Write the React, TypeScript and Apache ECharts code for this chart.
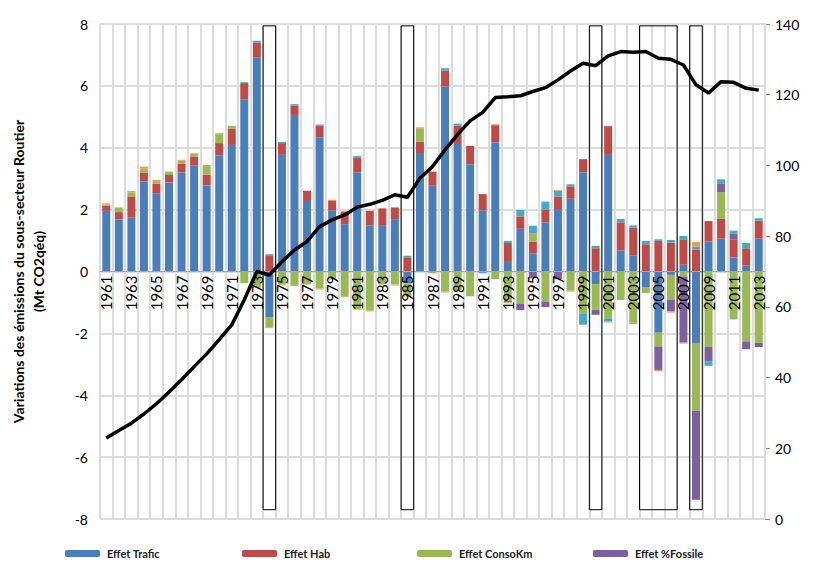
import React, { useEffect, useRef } from "react";
import * as echarts from "echarts";

const years: string[] = [];
for (let y = 1961; y <= 2013; y++) years.push(String(y));

const trafic = [1.96, 1.68, 1.74, 2.92, 2.53, 2.88, 3.2, 3.42, 2.78, 3.75, 4.09, 5.57, 6.91,
  -1.49, 3.77, 5.06, 2.28, 4.34, 1.97, 1.53, 3.21, 1.48, 1.5, 1.67, -0.38, 3.8, 2.77,
  5.98, 4.15, 3.47, 1.97, 4.17, 0.34, 1.38, 0.59, 1.59, 2.02, 2.35, 3.21, -0.41, 3.77,
  0.68, 0.51, -0.5, -1.98, -0.11, 0.22, -2.31, 0.97, 1.06, 0.45, 0.19, 1.06];
const hab = [0.17, 0.24, 0.67, 0.28, 0.31, 0.24, 0.28, 0.3, 0.35, 0.4, 0.53, 0.52, 0.49,
  0.5, 0.38, 0.31, 0.33, 0.37, 0.31, 0.41, 0.48, 0.48, 0.54, 0.4, 0.46, 0.4, 0.46,
  0.51, 0.56, 0.59, 0.53, 0.56, 0.58, 0.4, 0.38, 0.4, 0.4, 0.4, 0.42, 0.75, 0.91,
  0.91, 0.91, 0.88, 0.99, 0.94, 0.82, 0.7, 0.66, 0.64, 0.59, 0.56, 0.58];
const consoKm = [0.04, 0.15, 0.14, 0.12, 0.08, 0.11, 0.1, 0.1, 0.31, 0.29, 0.09, -0.38, -0.5,
  -0.31, -0.42, -0.44, -0.42, -0.55, -0.26, -0.79, -1.23, -1.26, -0.42, -0.42, -0.4, 0.41, -0.06,
  -0.65, -0.6, -0.8, 0, -0.25, -0.95, -1.05, 0.27, -0.97, 0, -0.62, -1.35, -0.83, -1.51,
  -0.92, -1.66, -0.2, -0.44, -0.8, -0.16, -2.19, -2.44, 0.86, -1.55, -2.26, -2.31];
const fossile = [0, 0, 0, 0, 0, 0, 0, 0, 0, 0, 0, 0, 0,
  0, 0, 0, 0, 0, 0, 0, 0, 0, 0, 0, 0, 0, 0,
  0, 0, 0, 0, 0, -0.05, -0.2, -0.22, -0.18, -0.25, 0, 0, -0.16, 0.03,
  0, 0, 0, -0.76, -0.38, -2.14, -2.88, -0.47, 0.29, 0.18, -0.25, -0.13];
const autre1 = [0, 0, 0, 0, 0, 0, 0, 0, 0, 0, 0, 0.03, 0.06,
  0.06, 0.04, 0.04, 0, 0.04, 0, 0, 0.04, 0, 0, 0, 0.05, 0, 0,
  0.08, 0.07, 0, -0.06, 0, 0.07, 0.21, 0.24, 0.27, 0.19, 0.07, -0.37, 0.08, -0.11,
  0.11, 0.07, 0.11, 0.05, 0.08, 0.11, 0.11, -0.14, 0.13, 0.1, 0.17, 0.08];
const autre2 = [0.03, 0, 0.05, 0.07, 0.04, 0, 0.03, 0, 0, 0.03, 0, 0, -0.03,
  -0.03, -0.03, -0.03, 0, -0.03, 0.04, -0.03, 0, -0.03, 0, -0.03, -0.03, 0.05, 0,
  -0.03, 0, 0, 0, 0.03, -0.03, 0, 0, 0, 0.03, -0.03, 0, 0, -0.03,
  0, -0.04, 0, -0.04, -0.04, -0.03, 0.14, 0, 0, 0, 0, 0];
const routier = [22.9, 25.0, 27.1, 29.7, 32.6, 35.9, 39.4, 43.1, 46.7, 50.7, 54.9, 62.0, 70.0,
  69.0, 72.8, 76.1, 78.5, 82.7, 84.6, 86.0, 88.2, 89.0, 90.1, 91.7, 91.0, 96.4, 99.7,
  104.4, 108.8, 112.6, 115.0, 119.2, 119.4, 119.7, 120.9, 122.0, 124.2, 126.7, 128.9, 128.2, 131.0,
  132.2, 132.0, 132.2, 130.3, 130.0, 128.4, 122.8, 120.5, 123.7, 123.5, 121.8, 121.3];

const boxStart = ["1974", "1985", "2000", "2004", "2008"];
const boxEnd = ["1974", "1985", "2000", "2006", "2008"];
const boxTop = 7.94;
const boxBottom = -7.7;

const legendNames = ["Effet Trafic", "Effet Hab", "Effet ConsoKm", "Effet %Fossile"];
const legendLeft = [60, 237, 412, 588];

const GRID_TOP = 24;
const GRID_BOTTOM = 47;
const CHART_H = 566;

export default function App() {
  const ref = useRef<HTMLDivElement>(null);
  useEffect(() => {
    if (!ref.current) return;
    const chart = echarts.init(ref.current, null, { renderer: "svg" });
    const font = "Lato";
    const barSeries = (name: string, data: number[], color: string) => ({
      name,
      type: "bar",
      stack: "total",
      barWidth: 8,
      data,
      itemStyle: { color },
      z: 2,
    });
    const boxData = boxStart.map((s, i) => [years.indexOf(s), years.indexOf(boxEnd[i])]);
    // the category axis sits on the left axis' zero: half of the plot height above the bottom
    const plotH = CHART_H - GRID_TOP - GRID_BOTTOM;
    const zeroOffset = -plotH / 2;
    chart.setOption({
      animation: false,
      textStyle: { fontFamily: font },
      legend: legendNames.map((n, i) => ({
        data: [n],
        left: legendLeft[i],
        top: 543,
        itemWidth: 35,
        itemHeight: 7,
        itemGap: 6,
        textStyle: { fontSize: 11, fontWeight: "bold", color: "#222", fontFamily: font, padding: [0, 0, 0, 2] },
      })),
      grid: { left: 89, right: 48, top: GRID_TOP, bottom: GRID_BOTTOM },
      xAxis: {
        type: "category",
        data: years,
        position: "bottom",
        offset: zeroOffset,
        axisLine: { onZero: false, lineStyle: { color: "#a6a6a6", width: 1 } },
        axisTick: { show: false },
        axisLabel: { interval: 1, rotate: 90, fontSize: 15, color: "#000", margin: 4, fontFamily: font },
        splitLine: { show: true, interval: 0, lineStyle: { color: "#dcdcdc", width: 2 } },
        z: 3,
      },
      yAxis: [
        {
          type: "value",
          min: -8,
          max: 8,
          interval: 2,
          position: "left",
          name: "Variations des émissions du sous-secteur Routier\n(Mt CO2qéq)",
          nameLocation: "middle",
          nameGap: 52,
          nameTextStyle: { fontSize: 14, fontWeight: "bold", color: "#000", lineHeight: 20, fontFamily: font },
          axisLine: { show: false },
          axisTick: { show: false },
          axisLabel: { fontSize: 14, color: "#000", margin: 12, fontFamily: font },
          splitLine: { show: true, lineStyle: { color: "#dcdcdc", width: 2 } },
        },
        {
          type: "value",
          min: 0,
          max: 140,
          interval: 20,
          position: "right",
          axisLine: { show: true, onZero: false, lineStyle: { color: "#868686", width: 1 } },
          axisTick: { show: true, length: 5, lineStyle: { color: "#868686" } },
          axisLabel: { fontSize: 14, color: "#000", margin: 10, fontFamily: font },
          splitLine: { show: false },
        },
      ],
      series: [
        barSeries("Effet Trafic", trafic, "#4a7ebb"),
        barSeries("Effet Hab", hab, "#be4b48"),
        barSeries("Effet ConsoKm", consoKm, "#98b954"),
        barSeries("Effet %Fossile", fossile, "#7d60a0"),
        barSeries("Autre", autre1, "#46aac5"),
        barSeries("Autre2", autre2, "#f79646"),
        {
          name: "Périodes",
          type: "custom",
          xAxisIndex: 0,
          yAxisIndex: 0,
          data: boxData,
          encode: { x: [0, 1] },
          z: 5,
          renderItem: (params: any, api: any) => {
            const s = api.coord([api.value(0), boxTop]);
            const e = api.coord([api.value(1), boxBottom]);
            const w = api.size([1, 0])[0];
            return {
              type: "rect",
              shape: { x: s[0] - w / 2, y: s[1], width: e[0] - s[0] + w, height: e[1] - s[1] },
              style: { fill: "none", stroke: "#000", lineWidth: 1 },
            };
          },
        },
        {
          name: "Émissions",
          type: "line",
          yAxisIndex: 1,
          data: routier,
          symbol: "none",
          lineStyle: { color: "#000", width: 3.5 },
          z: 10,
        },
      ],
    });
    return () => chart.dispose();
  }, []);
  return <div ref={ref} style={{ width: 813, height: 566, position: "absolute", left: 0, top: 0 }} />;
}
